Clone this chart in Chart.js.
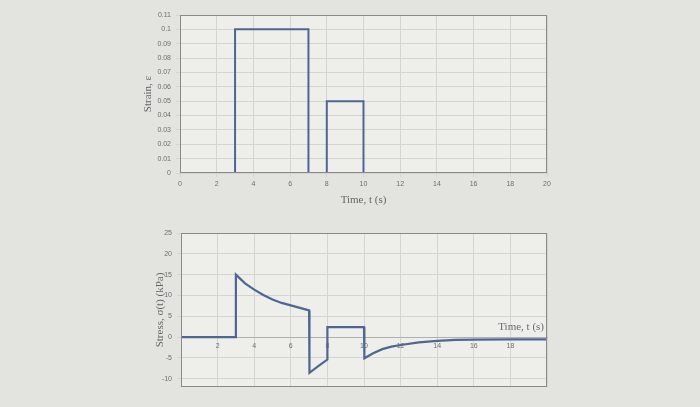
<!DOCTYPE html>
<html>
<head>
<meta charset="utf-8">
<script src="https://cdn.jsdelivr.net/npm/chart.js@4"></script>
<style>
  html, body { margin: 0; padding: 0; }
  body { width: 700px; height: 407px; background: #e3e3df; position: relative; overflow: hidden; }
  canvas { position: absolute; }
  #strain { left: 130px; top: 0px; }
  #stress { left: 130px; top: 215px; }
</style>
</head>
<body>
<canvas id="strain" width="440" height="215"></canvas>
<canvas id="stress" width="440" height="192"></canvas>
<script>
// strain input: rectangular steps
const strainTime = [0, 3, 3, 7, 7, 8, 8, 10, 10, 20];
const strainValues = [0, 0, 0.1, 0.1, 0, 0, 0.05, 0.05, 0, 0];

// stress response
const stressTime = [0, 3, 3, 3.5, 4, 4.5, 5, 5.5, 6, 6.5, 7, 7.02, 7.5, 8, 8, 10, 10.02, 10.5, 11, 11.5, 12, 13, 14, 15, 16, 18, 20];
const stressValues = [0, 0, 15, 12.9, 11.4, 10.1, 9.0, 8.2, 7.6, 7.0, 6.4, -8.6, -7.0, -5.4, 2.4, 2.4, -5.1, -3.9, -2.9, -2.3, -1.9, -1.3, -0.9, -0.7, -0.6, -0.55, -0.55];

const strainTicks = [0, 0.01, 0.02, 0.03, 0.04, 0.05, 0.06, 0.07, 0.08, 0.09, 0.1, 0.11];
const stressTicks = [-10, -5, 0, 5, 10, 15, 20, 25];
const timeTicks = [0, 2, 4, 6, 8, 10, 12, 14, 16, 18, 20];

const lineColor = '#4e6792';
const tickFont = { family: 'Liberation Sans', size: 7 };
const titleFont = { family: 'Liberation Serif', size: 11 };

const frame = {
  id: 'frame',
  beforeDraw: (chart) => {
    const { ctx, chartArea: a } = chart;
    ctx.save();
    ctx.fillStyle = '#eeeeeb';
    ctx.fillRect(a.left, a.top, a.width, a.height);
    ctx.restore();
  },
  afterDraw: (chart) => {
    const { ctx, chartArea: a } = chart;
    ctx.save();
    ctx.strokeStyle = '#8a8a88';
    ctx.lineWidth = 1;
    ctx.strokeRect(a.left + 0.5, a.top + 0.5, a.width - 1, a.height - 1);
    const note = chart.options.plugins.frame && chart.options.plugins.frame.note;
    if (note) {
      ctx.fillStyle = '#6b6b6b';
      ctx.font = '11px "Liberation Serif"';
      ctx.textAlign = 'right';
      ctx.textBaseline = 'bottom';
      ctx.fillText(note, a.right - 3, chart.scales.y.getPixelForValue(0) - 4);
    }
    ctx.restore();
  }
};

const pts = (xs, ys) => xs.map((x, i) => ({ x, y: ys[i] }));

new Chart(document.getElementById('strain'), {
  type: 'scatter',
  data: {
    datasets: [{
      data: pts(strainTime, strainValues),
      showLine: true,
      borderColor: lineColor,
      borderWidth: 2,
      pointRadius: 0
    }]
  },
  options: {
    responsive: false,
    animation: false,
    layout: { padding: { top: 15, right: 23, bottom: 0, left: 10 } },
    plugins: { legend: { display: false }, tooltip: { enabled: false } },
    scales: {
      x: {
        type: 'linear', min: 0, max: 20,
        afterBuildTicks: (s) => { s.ticks = timeTicks.map((v) => ({ value: v })); },
        ticks: { font: tickFont, color: '#6e6e6e', padding: 3, maxRotation: 0 },
        grid: { color: '#d4d4d1', tickLength: 4 },
        border: { display: false },
        title: { display: true, text: 'Time, t (s)', font: titleFont, color: '#666', padding: { top: 0, bottom: 8 } },
        afterFit: (s) => { s.height = 42; }
      },
      y: {
        min: 0, max: 0.11,
        afterBuildTicks: (s) => { s.ticks = strainTicks.map((v) => ({ value: v })); },
        ticks: { font: tickFont, color: '#6e6e6e', padding: 5, callback: (v) => String(Number(v.toFixed(2))) },
        grid: { color: '#d4d4d1', tickLength: 4 },
        border: { display: false },
        title: { display: true, text: 'Strain, ε', font: titleFont, color: '#666', padding: 2 },
        afterFit: (s) => { s.width = 40; }
      }
    }
  },
  plugins: [frame]
});

new Chart(document.getElementById('stress'), {
  type: 'scatter',
  data: {
    datasets: [{
      data: pts(stressTime, stressValues),
      showLine: true,
      borderColor: lineColor,
      borderWidth: 2.2,
      pointRadius: 0
    }]
  },
  options: {
    responsive: false,
    animation: false,
    layout: { padding: { top: 18, right: 23, bottom: 20, left: 22 } },
    plugins: { legend: { display: false }, tooltip: { enabled: false }, frame: { note: 'Time, t (s)' } },
    scales: {
      x: {
        type: 'linear', min: 0, max: 20,
        position: { y: 0 },
        afterBuildTicks: (s) => { s.ticks = timeTicks.map((v) => ({ value: v })); },
        ticks: { font: tickFont, color: '#6e6e6e', padding: 1, maxRotation: 0,
          callback: (v) => (v === 0 || v === 20 ? '' : String(v)) },
        grid: { color: '#d4d4d1', tickLength: 4 },
        border: { display: true, color: '#b0b0ad' }
      },
      y: {
        min: -12, max: 25,
        afterBuildTicks: (s) => { s.ticks = stressTicks.map((v) => ({ value: v })); },
        ticks: { font: tickFont, color: '#6e6e6e', padding: 5 },
        grid: { color: '#d4d4d1', tickLength: 4 },
        border: { display: false },
        title: { display: true, text: 'Stress, σ(t) (kPa)', font: { family: 'Liberation Serif', size: 11 }, color: '#666', padding: 2 },
        afterFit: (s) => { s.width = 29; }
      }
    }
  },
  plugins: [frame]
});
</script>
</body>
</html>
